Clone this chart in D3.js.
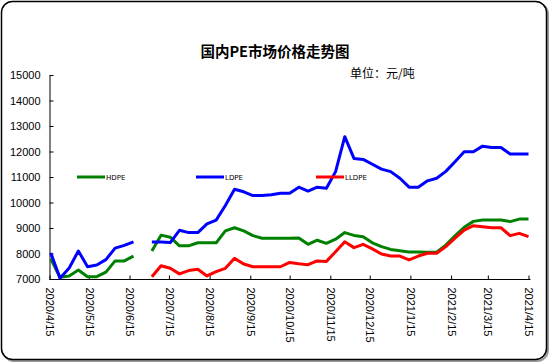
<!DOCTYPE html>
<html>
<head>
<meta charset="utf-8">
<script src="https://cdn.jsdelivr.net/npm/d3@7"></script>
<style>
html,body{margin:0;padding:0;background:#fff;}
svg{display:block;}
</style>
</head>
<body>
<svg id="chart" width="550" height="364"></svg>
<script>
const dates = ["2020-04-16","2020-04-23","2020-04-30","2020-05-07","2020-05-14","2020-05-21","2020-05-28","2020-06-04","2020-06-11","2020-06-18","2020-06-25","2020-07-02","2020-07-09","2020-07-16","2020-07-23","2020-07-30","2020-08-06","2020-08-13","2020-08-20","2020-08-27","2020-09-03","2020-09-10","2020-09-17","2020-09-24","2020-10-01","2020-10-08","2020-10-15","2020-10-22","2020-10-29","2020-11-05","2020-11-12","2020-11-19","2020-11-26","2020-12-03","2020-12-10","2020-12-17","2020-12-24","2020-12-31","2021-01-07","2021-01-14","2021-01-21","2021-01-28","2021-02-04","2021-02-11","2021-02-18","2021-02-25","2021-03-04","2021-03-11","2021-03-18","2021-03-25","2021-04-01","2021-04-08","2021-04-15"];

const hdpe = [7790,7070,7120,7350,7090,7090,7270,7710,7710,7900,null,8100,8720,8640,8300,8300,8420,8420,8420,8890,9010,8890,8700,8600,8600,8600,8600,8610,8360,8520,8400,8560,8820,8710,8660,8420,8270,8160,8110,8060,8060,8050,8050,8330,8690,9030,9260,9310,9310,9310,9250,9350,9350];

const ldpe = [8020,7030,7430,8100,7480,7550,7760,8210,8320,8455,null,8450,8450,8430,8910,8820,8820,9160,9310,9880,10520,10420,10270,10270,10300,10360,10360,10600,10450,10600,10560,11210,12580,11730,11690,11500,11310,11210,10950,10600,10600,10850,10950,11220,11600,11990,11990,12210,12160,12160,11900,11900,11900];

const lldpe = [null,null,null,null,null,null,null,null,null,null,null,7090,7520,7420,7200,7330,7380,7120,7290,7420,7810,7590,7480,7480,7480,7480,7650,7600,7560,7710,7690,8070,8460,8230,8360,8180,7980,7900,7900,7750,7900,8010,8010,8270,8600,8920,9090,9050,9010,9010,8700,8790,8660];

const seriesNames = ["HDPE","LDPE","LLDPE"];
const seriesColors = ["#008000","#0000ff","#ff0000"];

const xTickDates = ["2020-04-15","2020-05-15","2020-06-15","2020-07-15","2020-08-15","2020-09-15","2020-10-15","2020-11-15","2020-12-15","2021-01-15","2021-02-15","2021-03-15","2021-04-15"];
const xTickLabels = ["2020/4/15","2020/5/15","2020/6/15","2020/7/15","2020/8/15","2020/9/15","2020/10/15","2020/11/15","2020/12/15","2021/1/15","2021/2/15","2021/3/15","2021/4/15"];
const yTicks = [7000,8000,9000,10000,11000,12000,13000,14000,15000];

const titleText = "国内PE市场价格走势图";
const unitText = "单位：元/吨";

const parse = d3.timeParse("%Y-%m-%d");
const svg = d3.select("#chart");

// frame with shadow
svg.append("rect").attr("x",3).attr("y",3).attr("width",545).attr("height",358)
  .attr("rx",11).attr("fill","none").attr("stroke","#9a9a9a").attr("stroke-width",2);
svg.append("rect").attr("x",1.5).attr("y",1.5).attr("width",545).attr("height",358)
  .attr("rx",11).attr("fill","#fff").attr("stroke","#000").attr("stroke-width",1.5);

const x = d3.scaleTime().domain([parse("2020-04-15"), parse("2021-04-15")]).range([49.5, 528.5]);
const y = d3.scaleLinear().domain([7000, 15000]).range([279, 75]);

// title
svg.append("text").attr("x",275).attr("y",57).attr("text-anchor","middle")
  .attr("font-family","'Noto Sans CJK SC', sans-serif").attr("font-weight","bold")
  .attr("font-size",14.5).attr("fill","#000").text(titleText);
svg.append("text").attr("x",350).attr("y",78)
  .attr("font-family","'Noto Sans CJK SC', sans-serif")
  .attr("font-size",12).attr("fill","#000").text(unitText);

// y axis
const yAxis = d3.axisLeft(y).tickValues(yTicks).tickSizeInner(-4).tickSizeOuter(0)
  .tickFormat(d3.format("d"));
const gy = svg.append("g").attr("transform","translate(49.5,0)").call(yAxis);
gy.select(".domain").attr("stroke","#000");
gy.selectAll(".tick line").attr("stroke","#000");
gy.selectAll(".tick text").attr("font-family","'Liberation Sans', Arial, sans-serif")
  .attr("font-size",11).attr("fill","#000").attr("x",-9);

// x axis
const xAxis = d3.axisBottom(x).tickValues(xTickDates.map(parse)).tickSizeInner(-4).tickSizeOuter(0)
  .tickFormat((d,i) => xTickLabels[i]);
const gx = svg.append("g").attr("transform","translate(0,279.5)").call(xAxis);
gx.select(".domain").attr("stroke","#000").attr("d","M49.5,0H530.5");
gx.selectAll(".tick line").attr("stroke","#000");
gx.selectAll(".tick text")
  .attr("font-family","'Liberation Sans', Arial, sans-serif").attr("font-size",11).attr("fill","#000")
  .attr("text-anchor","start").attr("transform","rotate(90)")
  .attr("x",8).attr("y",0).attr("dy","0.35em");

// lines
const allSeries = [hdpe, ldpe, lldpe];
const line = d3.line()
  .defined(d => d.v !== null)
  .x(d => x(d.t)).y(d => y(d.v));

allSeries.forEach((vals, si) => {
  const pts = dates.map((d,i) => ({t: parse(d), v: vals[i]}));
  svg.append("path").datum(pts).attr("d", line)
    .attr("fill","none").attr("stroke",seriesColors[si]).attr("stroke-width",3)
    .attr("stroke-linejoin","round");
});

// legend
const legendX = [77, 196, 316];
const legendY = y(11000);
seriesNames.forEach((name, i) => {
  svg.append("line").attr("x1",legendX[i]).attr("x2",legendX[i]+28)
    .attr("y1",legendY).attr("y2",legendY)
    .attr("stroke",seriesColors[i]).attr("stroke-width",3);
  svg.append("text").attr("x",legendX[i]+29).attr("y",legendY+2.5)
    .attr("font-family","'DejaVu Sans', sans-serif").attr("font-size",7)
    .attr("fill","#000").text(name);
});
</script>
</body>
</html>
